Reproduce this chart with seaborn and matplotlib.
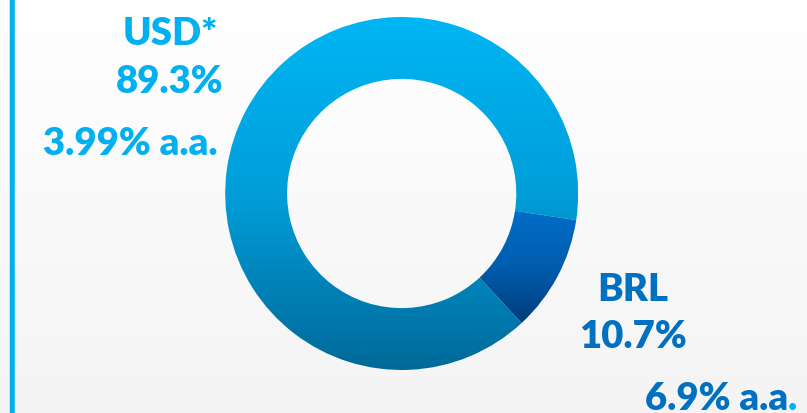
import numpy as np
import matplotlib
matplotlib.use("Agg")
import matplotlib.pyplot as plt
from matplotlib.colors import LinearSegmentedColormap
import seaborn as sns

# ---- data ----
categories = ["USD*", "BRL"]
shares = [89.3, 10.7]
share_labels = ["89.3%", "10.7%"]
rate_labels = ["3.99% a.a.", "6.9% a.a"]

sns.set_theme(style="white")
plt.rcParams["font.family"] = ["Lato", "DejaVu Sans"]

W, H = 807, 413
fig = plt.figure(figsize=(W / 100, H / 100), dpi=100)
ax = fig.add_axes([0, 0, 1, 1])
ax.set_xlim(0, W)
ax.set_ylim(0, H)
ax.set_aspect("equal")
ax.axis("off")

# background gradient
bg = np.linspace(0, 1, 256).reshape(-1, 1)
bg_cmap = LinearSegmentedColormap.from_list("bg", ["#FFFFFF", "#F4F4F4"])
ax.imshow(bg, extent=(0, W, 0, H), origin="upper", cmap=bg_cmap, aspect="auto", zorder=0)

# left border line
ax.plot([12.3, 12.3], [0, H], color="#00B0F0", lw=4.0, solid_capstyle="butt", zorder=1)
ax.plot([9.2, 9.2], [0, H], color="#DDDDDD", lw=0.7, zorder=1)

cx, cy, R = 401.7, 413 - 193.5, 176.5
width = R - 114.6

wedges, _ = ax.pie(shares, startangle=-47.2, counterclock=False, radius=R,
                   center=(cx, cy), wedgeprops=dict(width=width, linewidth=0),
                   frame=True)
ax.set_xlim(0, W)
ax.set_ylim(0, H)
ax.axis("off")

grad_colors = [["#00B6F4", "#009ED9", "#00699A"], ["#006DC9", "#005DAE", "#003C7A"]]
for w, cols in zip(wedges, grad_colors):
    w.set_facecolor("none")
    bb = w.get_path().get_extents(w.get_transform() - ax.transData)
    cmap = LinearSegmentedColormap.from_list("g", cols)
    im = ax.imshow(np.linspace(0, 1, 256).reshape(-1, 1), cmap=cmap, aspect="auto",
                   extent=(bb.x0, bb.x1, bb.y0, bb.y1), origin="upper", zorder=2)
    im.set_clip_path(w)

ax.set_xlim(0, W)
ax.set_ylim(0, H)

usd_c, brl_c = "#00B0F0", "#0070C0"
fs = 27.5
kw = dict(fontsize=fs, fontweight="heavy", va="baseline", zorder=5)
ax.text(170, H - 45, categories[0], color=usd_c, ha="center", **kw)
ax.text(170, H - 93, share_labels[0], color=usd_c, ha="center", **kw)
ax.text(218, H - 155, rate_labels[0], color=usd_c, ha="right", **kw)

ax.text(632.5, H - 301, categories[1], color=brl_c, ha="center", **kw)
ax.text(632.5, H - 348, share_labels[1], color=brl_c, ha="center", **kw)
t = ax.text(645, H - 410, rate_labels[1], color=brl_c, ha="left", **kw)
ax.annotate(".", xy=(1, 0), xycoords=t, xytext=(0, 0), textcoords="offset points",
            color=usd_c, fontsize=fs, fontweight="heavy", ha="left", va="bottom",
            annotation_clip=False, zorder=5)

fig.savefig("out.png", dpi=100)
